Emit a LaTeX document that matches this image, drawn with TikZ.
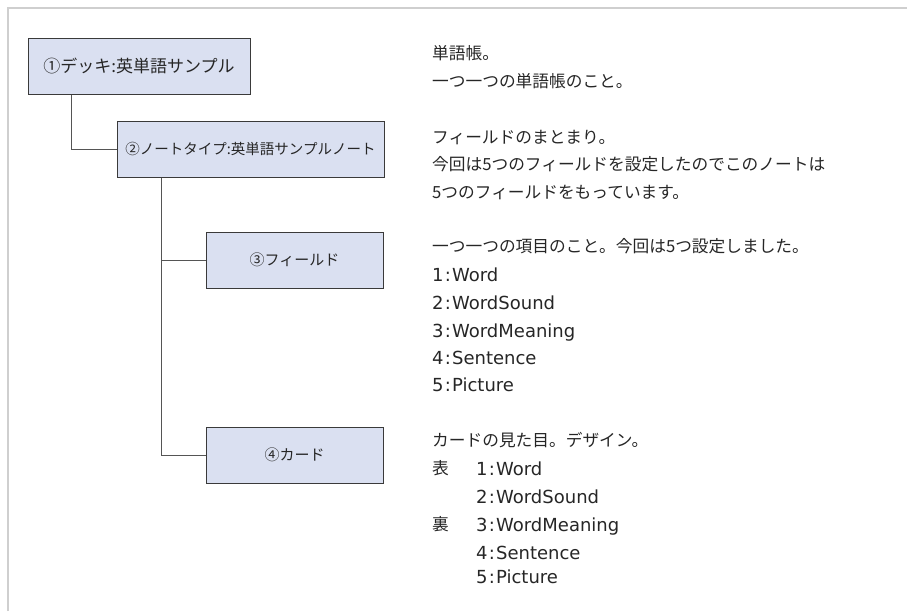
\documentclass[tikz,border=0pt]{standalone}
\usepackage{fontspec}
\newfontfamily\jp{Noto Sans CJK JP}
\newfontfamily\lat{DejaVu Sans}
\newcommand{\fld}[2]{{\lat\fontsize{18}{18}\selectfont #1\kern1.2pt:\kern1.2pt#2}}
\usetikzlibrary{calc}
\definecolor{boxfill}{HTML}{DAE0F1}
\definecolor{boxdraw}{HTML}{3A3A3A}
\definecolor{linegray}{HTML}{555555}
\definecolor{framegray}{HTML}{CFCFCF}
\definecolor{txt}{HTML}{262626}
\tikzset{
  box/.style={draw=boxdraw, line width=1pt, fill=boxfill, inner sep=0pt, text=txt, font=\jp},
  conn/.style={draw=linegray, line width=1pt},
  desc/.style={anchor=base west, inner sep=0pt, text=txt, font=\jp\fontsize{16.7}{16.7}\selectfont},
}
\begin{document}
\begin{tikzpicture}[x=1pt,y=-1pt]
\useasboundingbox (0,0) rectangle (907,611);
\draw[framegray, line width=2pt] (8,611) -- (8,8) -- (907,8);
% boxes
\node[box, minimum width=222pt, minimum height=56pt, font=\jp\fontsize{17}{17}\selectfont] (b1) at (139,66) {①デッキ:英単語サンプル};
\node[box, minimum width=267pt, minimum height=56pt, font=\jp\fontsize{14.5}{14.5}\selectfont] (b2) at (250.5,149) {②ノートタイプ:英単語サンプルノート};
\node[box, minimum width=177pt, minimum height=56pt, font=\jp\fontsize{15}{15}\selectfont] (b3) at (294.5,260) {③フィールド};
\node[box, minimum width=177pt, minimum height=56pt, font=\jp\fontsize{15}{15}\selectfont] (b4) at (294.5,455) {④カード};
% connectors
\draw[conn] ($(b1.south west)+(44,0)$) |- (b2.west);
\draw[conn] ($(b2.south west)+(45,0)$) |- (b3.west);
\draw[conn] ($(b2.south west)+(45,0)$) |- (b4.west);
% descriptions
\node[desc] (t11) at (432,59) {単語帳。};
\node[desc] (t12) at (432,87) {一つ一つの単語帳のこと。};
\node[desc] (t21) at (432,143) {フィールドのまとまり。};
\node[desc] (t22) at (432,170) {今回は5つのフィールドを設定したのでこのノートは};
\node[desc] (t23) at (432,198) {5つのフィールドをもっています。};
\node[desc] (t31) at (432,252) {一つ一つの項目のこと。今回は5つ設定しました。};
\node[desc] (t32) at (432,281) {\fld{1}{Word}};
\node[desc] (t33) at (432,309) {\fld{2}{WordSound}};
\node[desc] (t34) at (432,337) {\fld{3}{WordMeaning}};
\node[desc] (t35) at (432,364) {\fld{4}{Sentence}};
\node[desc] (t36) at (432,391) {\fld{5}{Picture}};
\node[desc] (t41) at (432,446) {カードの見た目。デザイン。};
\node[desc] (t42a) at (432,474) {表};
\node[desc] (t42) at (476,475) {\fld{1}{Word}};
\node[desc] (t43) at (476,503) {\fld{2}{WordSound}};
\node[desc] (t44a) at (432,530) {裏};
\node[desc] (t44) at (476,531) {\fld{3}{WordMeaning}};
\node[desc] (t45) at (476,559) {\fld{4}{Sentence}};
\node[desc] (t46) at (476,583) {\fld{5}{Picture}};
\end{tikzpicture}
\end{document}
